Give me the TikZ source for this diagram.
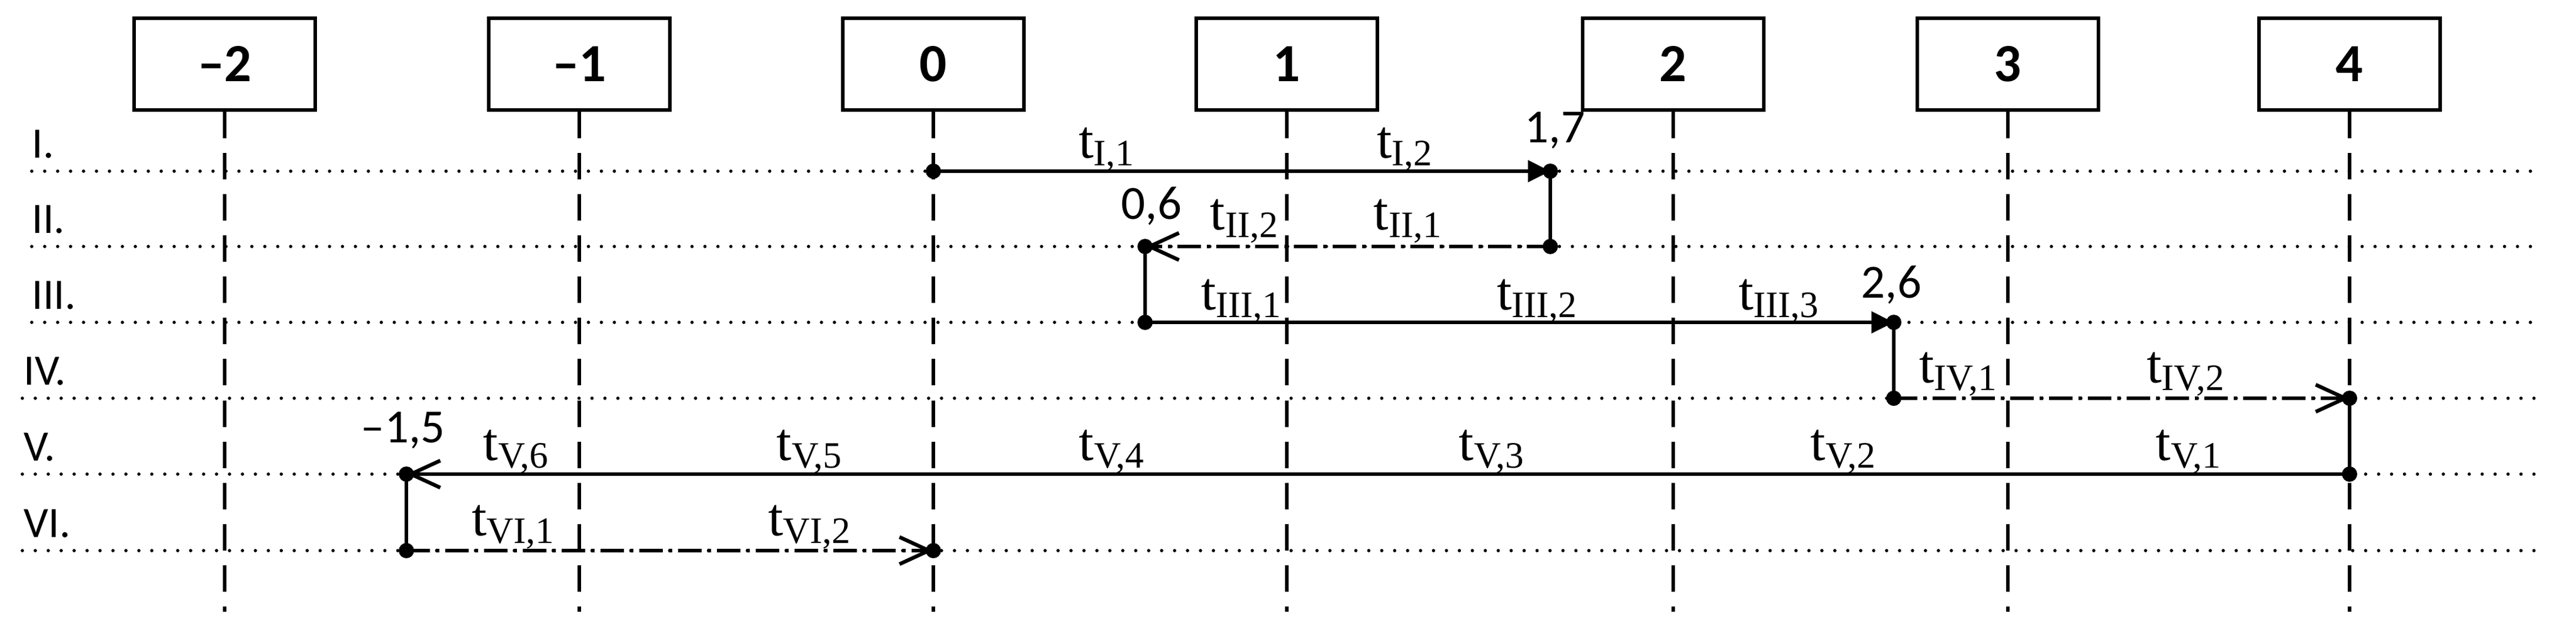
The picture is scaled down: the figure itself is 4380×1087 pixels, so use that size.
\documentclass[tikz,border=0pt]{standalone}
\usepackage{fontspec}
\setmainfont{Carlito}
\newfontfamily\tms{Liberation Serif}
\usetikzlibrary{arrows.meta}
\newcommand{\tsb}[1]{t\textsubscript{\fontsize{18}{20}\selectfont #1}}
\begin{document}
\begin{tikzpicture}[x=0.01cm,y=-0.01cm,
  box/.style={draw,line width=1.8pt,minimum width=3.08cm,minimum height=1.56cm,font=\fontsize{26}{28}\selectfont\bfseries,inner sep=0pt},
  axis/.style={line width=1.6pt,dash pattern=on 0.45cm off 0.25cm},
  row/.style={line width=1.6pt,line cap=round,dash pattern=on 0pt off 0.22cm},
  rlab/.style={anchor=south west,font=\fontsize{21}{23}\selectfont,inner sep=0pt},
  pt/.style={circle,fill,inner sep=0pt,minimum size=0.26cm},
  plab/.style={font=\fontsize{23}{25}\selectfont,inner sep=0pt},
  tl/.style={anchor=base,font=\tms\fontsize{26}{28}\selectfont,inner sep=0pt},
  sol/.style={line width=1.8pt},
  dd/.style={line width=1.8pt,dash pattern=on 0.4cm off 0.1cm on 0.06cm off 0.1cm},
  tri/.style={-{Triangle[length=0.38cm,width=0.36cm]}},
  barb/.style={-{Straight Barb[length=0.5cm,width=0.46cm,line width=1.8pt]}}]
\useasboundingbox (0,0) rectangle (4380,1087);
% rows
\foreach \y/\s in {291/54,419/54,548/54,677/38,806/38,936/38}
  \draw[row] (\s,\y) -- (4316,\y);
\node[rlab] (rI)   at (54,270) {I.};
\node[rlab] (rII)  at (54,398) {II.};
\node[rlab] (rIII) at (54,527) {III.};
\node[rlab] (rIV)  at (40,656) {IV.};
\node[rlab] (rV)   at (40,785) {V.};
\node[rlab] (rVI)  at (40,915) {VI.};
% columns
\foreach \n/\x/\t in {m2/382/{--2},m1/985/{--1},z/1587/0,a/2188/1,b/2845/2,c/3414/3,d/3995/4}{
  \node[box] (b\n) at (\x,109) {\t};
  \draw[axis] (b\n.south) -- (\x,1040);
}
% points
\node[pt] (p1) at (1587,291) {};
\node[pt] (p2) at (2636,291) {};
\node[pt] (p3) at (2636,419) {};
\node[pt] (p4) at (1947,419) {};
\node[pt] (p5) at (1947,548) {};
\node[pt] (p6) at (3220,548) {};
\node[pt] (p7) at (3220,677) {};
\node[pt] (p8) at (3995,677) {};
\node[pt] (p9) at (3995,806) {};
\node[pt] (p10) at (691,806) {};
\node[pt] (p11) at (691,936) {};
\node[pt] (p12) at (1587,936) {};
% connectors
\draw[sol,tri] (p1.center) -- (p2.center);
\draw[sol] (p2.center) -- (p3.center);
\draw[dd,barb] (p3.center) -- (p4.center);
\draw[sol] (p4.center) -- (p5.center);
\draw[sol,tri] (p5.center) -- (p6.center);
\draw[sol] (p6.center) -- (p7.center);
\draw[dd,barb] (p7.center) -- (p8.center);
\draw[sol] (p8.center) -- (p9.center);
\draw[sol,barb] (p9.center) -- (p10.center);
\draw[sol] (p10.center) -- (p11.center);
\draw[dd,barb] (p11.center) -- (p12.center);
% point labels
\node[plab] (l1) at (2644,222) {1,7};
\node[plab] (l2) at (1958,350) {0,6};
\node[plab] (l3) at (3216,484) {2,6};
\node[plab] (l4) at (685,732) {--1,5};
% t labels
\node[tl] at (1882,268) {\tsb{I,1}};
\node[tl] at (2389,268) {\tsb{I,2}};
\node[tl] at (2116,390) {\tsb{II,2}};
\node[tl] at (2394,390) {\tsb{II,1}};
\node[tl] at (2111,526) {\tsb{III,1}};
\node[tl] at (2614,526) {\tsb{III,2}};
\node[tl] at (3025,526) {\tsb{III,3}};
\node[tl] at (3330,650) {\tsb{IV,1}};
\node[tl] at (3717,650) {\tsb{IV,2}};
\node[tl] at (878,782) {\tsb{V,6}};
\node[tl] at (1377,782) {\tsb{V,5}};
\node[tl] at (1891,782) {\tsb{V,4}};
\node[tl] at (2537,782) {\tsb{V,3}};
\node[tl] at (3135,782) {\tsb{V,2}};
\node[tl] at (3722,782) {\tsb{V,1}};
\node[tl] at (873,910) {\tsb{VI,1}};
\node[tl] at (1377,910) {\tsb{VI,2}};
\end{tikzpicture}
\end{document}
